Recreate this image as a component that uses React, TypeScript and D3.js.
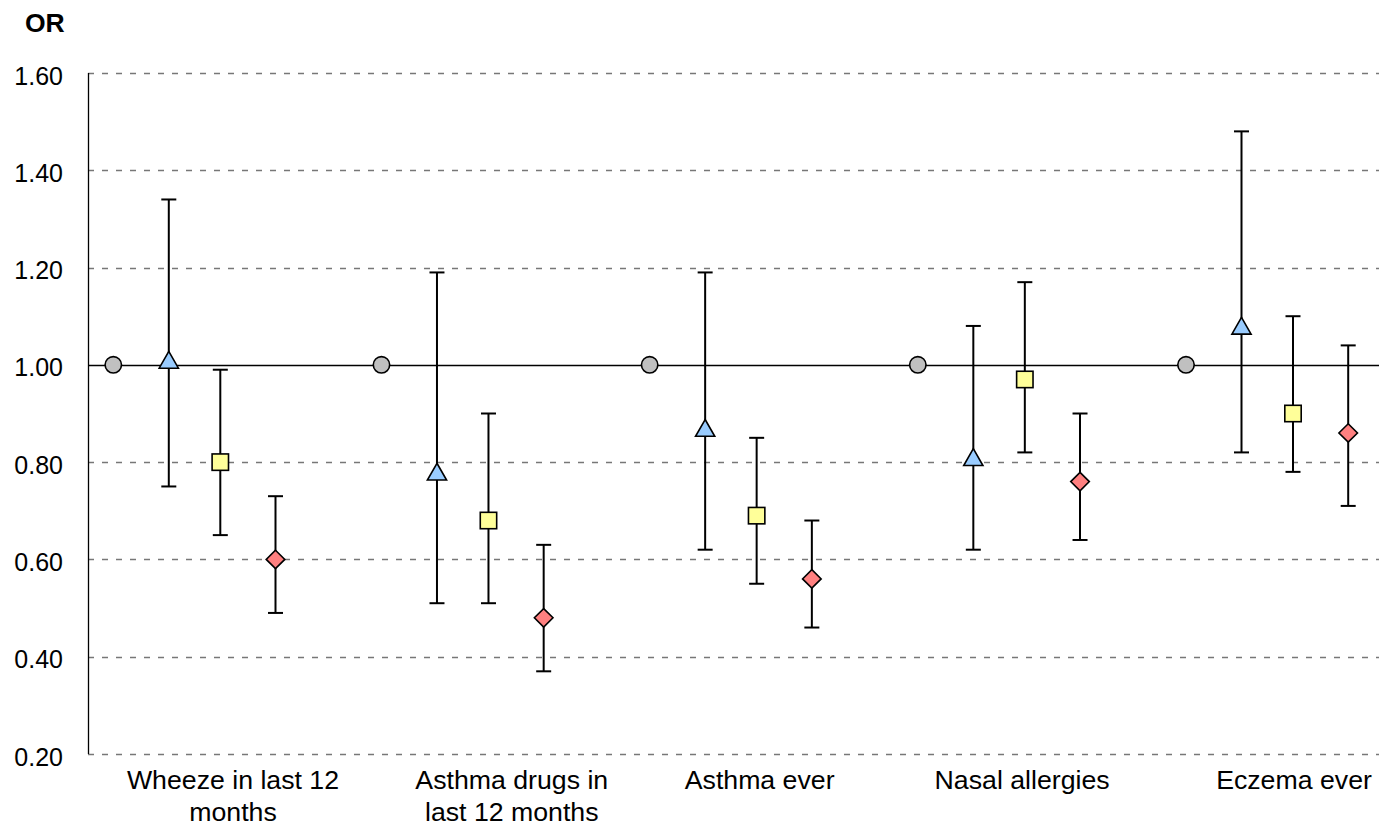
import React from "react";
import * as d3 from "d3";

// ---- data ----
const categories: string[][] = [
  ["Wheeze in last 12", "months"],
  ["Asthma drugs in", "last 12 months"],
  ["Asthma ever"],
  ["Nasal allergies"],
  ["Eczema ever"],
];
const refOR = [1.0, 1.0, 1.0, 1.0, 1.0];
const triOR = [1.01, 0.78, 0.87, 0.81, 1.08];
const triLow = [0.75, 0.51, 0.62, 0.62, 0.82];
const triHigh = [1.34, 1.19, 1.19, 1.08, 1.48];
const sqOR = [0.8, 0.68, 0.69, 0.97, 0.9];
const sqLow = [0.65, 0.51, 0.55, 0.82, 0.78];
const sqHigh = [0.99, 0.9, 0.85, 1.17, 1.1];
const diaOR = [0.6, 0.48, 0.56, 0.76, 0.86];
const diaLow = [0.49, 0.37, 0.46, 0.64, 0.71];
const diaHigh = [0.73, 0.63, 0.68, 0.9, 1.04];
const yTicks = [0.2, 0.4, 0.6, 0.8, 1.0, 1.2, 1.4, 1.6];
const yLabel = "OR";

// ---- layout ----
const W = 1379;
const H = 826;
const plotLeft = 88;
const plotRight = 1379;
const seriesOffsets = [0, 55.5, 107, 162.2];
const labelOffsets = [119.7, 130.3, 110, 104.3, 108];
const FONT = "'Liberation Sans', Arial, sans-serif";

const x = d3.scaleLinear().domain([0, 4]).range([113.3, 1186]);
const y = d3.scaleLinear().domain([0.2, 1.6]).range([754, 73]);

type Series = {
  shape: "circle" | "triangle" | "square" | "diamond";
  fill: string;
  vals: number[];
  low?: number[];
  high?: number[];
};
const series: Series[] = [
  { shape: "circle", fill: "#C0C0C0", vals: refOR },
  { shape: "triangle", fill: "#99CCFF", vals: triOR, low: triLow, high: triHigh },
  { shape: "square", fill: "#FFFF99", vals: sqOR, low: sqLow, high: sqHigh },
  { shape: "diamond", fill: "#FF8080", vals: diaOR, low: diaLow, high: diaHigh },
];

function Marker({ shape, cx, cy, fill }: { shape: string; cx: number; cy: number; fill: string }) {
  const common = { fill, stroke: "#000", strokeWidth: 1.6 };
  if (shape === "circle") return <circle cx={cx} cy={cy} r={8.2} {...common} />;
  if (shape === "square") return <rect x={cx - 8.2} y={cy - 8.2} width={16.4} height={16.4} {...common} />;
  if (shape === "triangle") {
    const pts = `${cx},${cy - 8.6} ${cx + 9.6},${cy + 8.2} ${cx - 9.6},${cy + 8.2}`;
    return <polygon points={pts} {...common} />;
  }
  const pts = `${cx},${cy - 9.2} ${cx + 9.3},${cy} ${cx},${cy + 9.2} ${cx - 9.3},${cy}`;
  return <polygon points={pts} {...common} />;
}

export default function App() {
  return (
    <svg
      width={W}
      height={H}
      style={{ position: "absolute", left: 0, top: 0, background: "#fff" }}
      fontFamily={FONT}
    >
      <rect x={0} y={0} width={W} height={H} fill="#fff" />
      {/* gridlines */}
      {yTicks.map((t) =>
        t === 1.0 ? null : (
          <line
            key={t}
            x1={plotLeft}
            x2={plotRight}
            y1={Math.round(y(t)) + 0.5}
            y2={Math.round(y(t)) + 0.5}
            stroke="#777"
            strokeWidth={1.5}
            strokeDasharray="6,8"
          />
        )
      )}
      {/* reference line at 1.00 */}
      <line
        x1={plotLeft}
        x2={plotRight}
        y1={Math.round(y(1.0)) + 0.5}
        y2={Math.round(y(1.0)) + 0.5}
        stroke="#000"
        strokeWidth={1.3}
      />
      {/* y axis line */}
      <line x1={plotLeft + 0.5} x2={plotLeft + 0.5} y1={y(1.6)} y2={y(0.2)} stroke="#000" strokeWidth={1.3} />
      {/* tick labels */}
      {yTicks.map((t) => (
        <text key={t} x={63} y={y(t) + 11.5} textAnchor="end" fontSize={25} fill="#000">
          {d3.format(".2f")(t)}
        </text>
      ))}
      <text x={25} y={32} fontSize={26.5} fontWeight="bold" fill="#000">
        {yLabel}
      </text>
      {/* error bars */}
      {series.map((s, si) =>
        s.low && s.high
          ? s.vals.map((_, gi) => {
              const cx = x(gi) + seriesOffsets[si];
              const y1 = y(s.high![gi]);
              const y2 = y(s.low![gi]);
              return (
                <g key={`e${si}-${gi}`} stroke="#000" strokeWidth={2}>
                  <line x1={cx} x2={cx} y1={y1} y2={y2} />
                  <line x1={cx - 7.5} x2={cx + 7.5} y1={y1} y2={y1} />
                  <line x1={cx - 7.5} x2={cx + 7.5} y1={y2} y2={y2} />
                </g>
              );
            })
          : null
      )}
      {/* markers */}
      {series.map((s, si) =>
        s.vals.map((v, gi) => (
          <Marker key={`m${si}-${gi}`} shape={s.shape} cx={x(gi) + seriesOffsets[si]} cy={y(v)} fill={s.fill} />
        ))
      )}
      {/* category labels */}
      {categories.map((lines, gi) => (
        <text key={gi} textAnchor="middle" fontSize={26.7} fill="#000">
          {lines.map((ln, li) => (
            <tspan key={li} x={x(gi) + labelOffsets[gi]} y={789 + li * 31.5}>
              {ln}
            </tspan>
          ))}
        </text>
      ))}
    </svg>
  );
}
